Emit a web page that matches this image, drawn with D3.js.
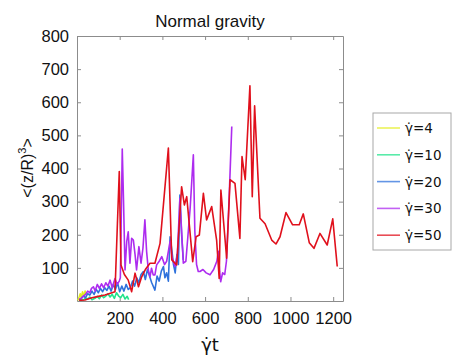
<!DOCTYPE html>
<html>
<head>
<meta charset="utf-8">
<script src="https://cdn.jsdelivr.net/npm/d3@7"></script>
<style>
  body { margin: 0; background: #fff; }
  text { font-family: "Liberation Sans", Arial, sans-serif; fill: #111; }
</style>
</head>
<body>
<svg class="chart"></svg>
<script>
// Data
var legendLabels = ["\u03b3\u0307=4", "\u03b3\u0307=10", "\u03b3\u0307=20", "\u03b3\u0307=30", "\u03b3\u0307=50"];
var seriesColors = ["#e4ee22", "#22e48c", "#2f72dc", "#ad2cef", "#e0101c"];
var xTicks = [200, 400, 600, 800, 1000, 1200];
var yTicks = [100, 200, 300, 400, 500, 600, 700, 800];

var t4 = [4, 10, 15, 20, 26, 32, 38, 44];
var v4 = [2, 12, 22, 10, 28, 15, 30, 18];

var t10 = [10, 20, 30, 40, 50, 60, 70, 84, 95, 105, 115, 125, 135, 145, 155, 165, 175, 185, 195, 205, 215, 225, 235, 242];
var v10 = [2, 5, 3, 9, 6, 12, 4, 8, 14, 7, 18, 10, 15, 22, 12, 20, 8, 25, 15, 10, 20, 6, 14, 4];

var t20 = [10, 20, 30, 40, 50, 60, 70, 80, 90, 100, 110, 120, 130, 140, 150, 160, 170, 180, 190, 200, 210, 220, 230, 240, 250, 260, 270, 280, 290, 300, 311, 320, 330, 340, 350, 365, 375, 385, 395, 405, 412, 420, 428, 436, 445, 452, 460, 468, 475, 482, 490, 498];
var v20 = [3, 8, 15, 10, 22, 18, 30, 20, 35, 25, 38, 28, 40, 32, 45, 30, 50, 35, 55, 28, 45, 30, 50, 35, 40, 60, 45, 70, 55, 80, 89, 65, 95, 75, 55, 33, 75, 60, 90, 104, 70, 85, 60, 194, 150, 110, 85, 140, 110, 320, 200, 124];

var t30 = [10, 20, 30, 40, 50, 60, 68, 77, 85, 95, 105, 115, 125, 135, 145, 155, 165, 178, 188, 198, 203, 212, 218, 225, 233, 240, 248, 256, 264, 272, 279, 290, 300, 309, 318, 326, 334, 342, 349, 357, 365, 373, 385, 397, 410, 420, 436, 446, 459, 470, 482, 498, 510, 520, 530, 545, 552, 560, 568, 576, 590, 605, 623, 640, 655, 662, 668, 673, 682, 692, 700, 712, 725];
var v30 = [5, 8, 15, 20, 30, 25, 38, 43, 30, 50, 38, 52, 40, 55, 45, 63, 40, 68, 50, 60, 70, 459, 300, 94, 180, 209, 114, 189, 184, 140, 94, 164, 114, 160, 245, 150, 94, 73, 99, 79, 79, 109, 120, 134, 110, 120, 180, 130, 104, 140, 310, 114, 120, 200, 280, 441, 210, 110, 89, 89, 95, 85, 79, 95, 120, 150, 90, 58, 85, 80, 120, 300, 527];

var t50 = [10, 37, 70, 100, 131, 160, 178, 198, 206, 222, 240, 256, 272, 288, 303, 320, 342, 365, 389, 428, 444, 467, 490, 503, 514, 542, 558, 573, 592, 607, 631, 654, 666, 674, 701, 717, 740, 763, 773, 788, 810, 821, 832, 857, 881, 912, 932, 951, 979, 1010, 1041, 1060, 1088, 1110, 1138, 1172, 1198, 1219];
var v50 = [2, 3, 10, 14, 18, 24, 28, 391, 109, 80, 63, 28, 84, 43, 73, 95, 114, 114, 174, 462, 124, 109, 345, 290, 315, 119, 194, 199, 325, 245, 285, 184, 68, 335, 129, 366, 355, 189, 436, 366, 650, 315, 589, 250, 233, 184, 172, 194, 267, 230, 230, 263, 176, 159, 204, 169, 248, 104];

var seriesT = [t4, t10, t20, t30, t50];
var seriesV = [v4, v10, v20, v30, v50];

var width = 463, height = 363;
var margin = { left: 77, right: 120, top: 36, bottom: 62 };
var plotW = width - margin.left - margin.right;   // 266
var plotH = height - margin.top - margin.bottom;  // 265

var svg = d3.select(".chart")
    .attr("width", width)
    .attr("height", height);

var x = d3.scaleLinear().domain([0, 1246]).range([margin.left, margin.left + plotW]);
var y = d3.scaleLinear().domain([0, 800]).range([margin.top + plotH, margin.top]);

// Box frame with inward ticks on every side
var frameColor = "#8c8c8c";
svg.append("g")
    .attr("transform", "translate(0," + (margin.top + plotH) + ")")
    .call(d3.axisBottom(x).tickValues(xTicks).tickFormat(d3.format("d"))
        .tickSizeInner(-4).tickSizeOuter(0).tickPadding(11))
    .call(function(g) {
        g.select(".domain").attr("stroke", frameColor);
        g.selectAll(".tick line").attr("stroke", frameColor);
        g.selectAll("text").attr("font-size", "16.5px").attr("fill", "#111")
            .style("font-family", "'Liberation Sans', Arial, sans-serif");
    });
svg.append("g")
    .attr("transform", "translate(0," + margin.top + ")")
    .call(d3.axisTop(x).tickValues(xTicks).tickSizeInner(-4).tickSizeOuter(0).tickFormat(""))
    .call(function(g) {
        g.select(".domain").attr("stroke", frameColor);
        g.selectAll(".tick line").attr("stroke", frameColor);
    });
svg.append("g")
    .attr("transform", "translate(" + margin.left + ",0)")
    .call(d3.axisLeft(y).tickValues(yTicks).tickSizeInner(-4).tickSizeOuter(0).tickPadding(8))
    .call(function(g) {
        g.select(".domain").attr("stroke", frameColor);
        g.selectAll(".tick line").attr("stroke", frameColor);
        g.selectAll("text").attr("font-size", "16.5px").attr("fill", "#111")
            .style("font-family", "'Liberation Sans', Arial, sans-serif");
    });
svg.append("g")
    .attr("transform", "translate(" + (margin.left + plotW) + ",0)")
    .call(d3.axisRight(y).tickValues(yTicks).tickSizeInner(-4).tickSizeOuter(0).tickFormat(""))
    .call(function(g) {
        g.select(".domain").attr("stroke", frameColor);
        g.selectAll(".tick line").attr("stroke", frameColor);
    });

// Lines
var line = d3.line()
    .x(function(d) { return x(d[0]); })
    .y(function(d) { return y(d[1]); });

svg.append("clipPath").attr("id", "plotclip")
    .append("rect")
    .attr("x", margin.left).attr("y", margin.top)
    .attr("width", plotW).attr("height", plotH);

svg.append("g")
    .attr("clip-path", "url(#plotclip)")
    .selectAll(".series")
    .data(seriesT.map(function(ts, i) {
        return ts.map(function(t, j) { return [t, seriesV[i][j]]; });
    }))
    .enter().append("path")
    .attr("class", "series")
    .attr("fill", "none")
    .attr("stroke", function(d, i) { return seriesColors[i]; })
    .attr("stroke-width", 1.6)
    .attr("stroke-linejoin", "round")
    .attr("d", line);

// Title and axis labels
svg.append("text")
    .attr("x", margin.left + plotW / 2)
    .attr("y", 27)
    .attr("text-anchor", "middle")
    .attr("font-size", "17px")
    .text("Normal gravity");

svg.append("text")
    .attr("x", margin.left + plotW / 2)
    .attr("y", 351)
    .attr("text-anchor", "middle")
    .attr("font-size", "18px")
    .style("font-family", "'DejaVu Sans', sans-serif")
    .text("\u03b3\u0307t");

var yLabel = svg.append("text")
    .attr("transform", "translate(33,168) rotate(-90)")
    .attr("text-anchor", "middle")
    .attr("font-size", "16px");
yLabel.append("tspan").text("<(z/R)");
yLabel.append("tspan").attr("dy", -7).attr("font-size", "11px").text("3");
yLabel.append("tspan").attr("dy", 7).text(">");

// Legend
var legend = svg.append("g");
legend.append("rect")
    .attr("x", 373).attr("y", 113)
    .attr("width", 78).attr("height", 137)
    .attr("fill", "#fff")
    .attr("stroke", "#a8a8a8");

var entries = legend.selectAll(".entry")
    .data(legendLabels)
    .enter().append("g")
    .attr("class", "entry")
    .attr("transform", function(d, i) { return "translate(377," + (128 + i * 26.8) + ")"; });

entries.append("line")
    .attr("x1", 0).attr("x2", 23)
    .attr("stroke", function(d, i) { return seriesColors[i]; })
    .attr("stroke-opacity", 0.75)
    .attr("stroke-width", 1.6);

entries.append("text")
    .attr("x", 28)
    .attr("y", 5)
    .attr("font-size", "13.5px")
    .style("font-family", "'DejaVu Sans', sans-serif")
    .text(function(d) { return d; });
</script>
</body>
</html>
